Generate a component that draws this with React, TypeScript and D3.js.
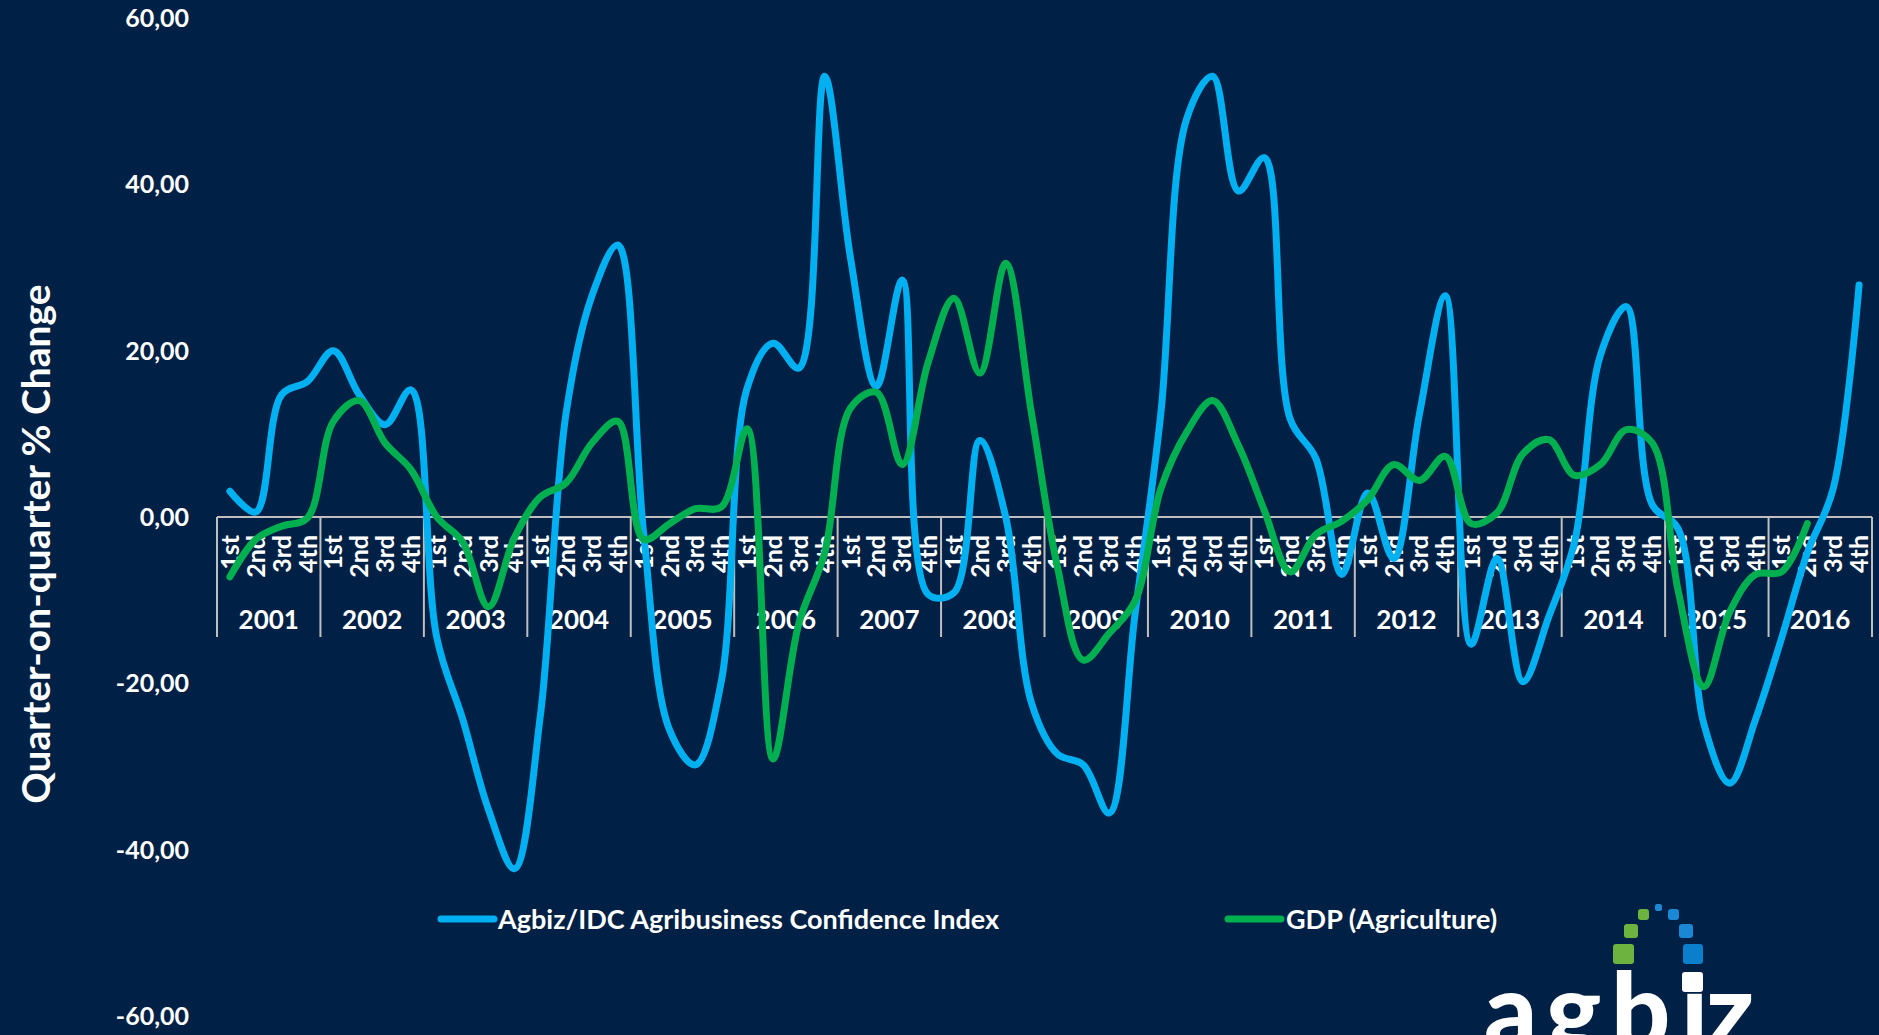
import { useEffect } from 'react'
import * as d3 from 'd3'

const years = ['2001', '2002', '2003', '2004', '2005', '2006', '2007', '2008', '2009', '2010', '2011', '2012', '2013', '2014', '2015', '2016']
const quarters = ['1st', '2nd', '3rd', '4th']

// Agbiz/IDC Agribusiness Confidence Index, q-o-q % change (2001 Q1 .. 2016 Q4)
const confidence = [
  3.1, 0.6, 14.7, 16.3,
  20.0, 14.7, 11.1, 15.3,
  -14.5, -24.3, -35.2, -42.3,
  -24.0, 12.5, 26.6, 32.7,
  -2.0, -25.6, -29.8, -19.8,
  15.5, 20.9, 17.9, 53.0,
  31.1, 15.7, 28.5, -9.3,
  -9.1, 9.2, 0.0, -22.4,
  -28.5, -29.8, -35.6, -11.7,
  12.5, 47.9, 53.0, 39.2,
  43.2, 11.8, 7.0, -6.9,
  2.9, -5.0, 12.4, 26.6,
  -15.3, -5.0, -19.8, -12.0,
  -3.0, 19.5, 25.3, 1.5,
  -1.4, -24.9, -32.0, -24.3,
  -14.6, -4.3, 3.4, 27.9,
]

// GDP (Agriculture), q-o-q % change (2001 Q1 .. 2016 Q2)
const gdpAgri = [
  -7.2, -2.7, -1.1, -0.1,
  11.5, 14.0, 8.9, 5.7,
  0.0, -3.0, -10.8, -2.5,
  2.4, 4.1, 8.9, 11.5,
  -2.7, -0.8, 1.0, 1.2,
  10.6, -29.1, -12.8, -4.3,
  13.1, 15.0, 6.3, 18.6,
  26.3, 17.3, 30.5, 12.4,
  -6.0, -17.2, -14.0, -10.1,
  3.4, 10.2, 14.0, 8.6,
  0.8, -6.6, -2.1, -0.5,
  2.1, 6.3, 4.4, 7.3,
  -0.8, 0.5, 7.6, 9.3,
  5.0, 6.3, 10.5, 8.9,
  -8.8, -20.4, -11.4, -6.9,
  -6.6, -0.8,
]

const yTicks = [-60, -40, -20, 0, 20, 40, 60]

const W = 1879
const H = 1035
const BG = '#002145'
const BLUE = '#00B0F0'
const GREEN = '#00B050'
const FONT = 'Lato, "Open Sans", sans-serif'

export default function App() {
  useEffect(() => {
    document.body.style.margin = '0'
    document.body.style.overflow = 'hidden'
  }, [])

  const cats = years.flatMap((yr) => quarters.map((q) => `${yr}-${q}`))
  const x = d3.scaleBand<string>().domain(cats).range([217, 1872])
  const y = d3.scaleLinear().domain([-60, 60]).range([1016, 18])
  const cx = (i: number) => (x(cats[i]) ?? 0) + x.bandwidth() / 2
  const y0 = y(0)

  const line = d3
    .line<number>()
    .x((_, i) => cx(i))
    .y((d) => y(d))
    .curve(d3.curveCatmullRom.alpha(0.5))

  // excel style: 2 decimals, comma separator, plain hyphen
  const fmt = (v: number) => v.toFixed(2).replace('.', ',')

  const seps = [...years.map((yr) => x(`${yr}-1st`) ?? 0), x.range()[1]]

  return (
    <svg width={W} height={H} style={{ position: 'absolute', left: 0, top: 0, display: 'block' }} fontFamily={FONT}>
      <rect width={W} height={H} fill={BG} />

      {/* y tick labels */}
      {yTicks.map((t) => (
        <text key={t} x={189} y={y(t)} dy="0.36em" textAnchor="end" fill="#fff" fontSize={25} fontWeight={700}>
          {fmt(t)}
        </text>
      ))}

      {/* y axis title */}
      <text
        transform={`translate(36,${544}) rotate(-90)`}
        dy="0.36em"
        textAnchor="middle"
        fill="#fff"
        fontSize={39}
        fontWeight={700}
      >
        Quarter-on-quarter % Change
      </text>

      {/* category axis */}
      <line x1={x.range()[0]} x2={x.range()[1]} y1={y0} y2={y0} stroke="#BFBFBF" strokeWidth={2} />
      {seps.map((sx, k) => (
        <line key={k} x1={sx} x2={sx} y1={y0} y2={637} stroke="#BFBFBF" strokeWidth={2} />
      ))}
      {cats.map((c, i) => (
        <text
          key={c}
          transform={`translate(${cx(i)},535) rotate(-90)`}
          dy="0.36em"
          textAnchor="end"
          fill="#fff"
          fontSize={25}
          fontWeight={700}
        >
          {quarters[i % 4]}
        </text>
      ))}
      {years.map((yr) => {
        const x0 = x(`${yr}-1st`) ?? 0
        return (
          <text key={yr} x={x0 + x.bandwidth() * 2} y={620} dy="0.36em" textAnchor="middle" fill="#fff" fontSize={26} fontWeight={700}>
            {yr}
          </text>
        )
      })}

      {/* series */}
      <path d={line(confidence) ?? ''} fill="none" stroke={BLUE} strokeWidth={7} strokeLinecap="round" strokeLinejoin="round" />
      <path d={line(gdpAgri) ?? ''} fill="none" stroke={GREEN} strokeWidth={7} strokeLinecap="round" strokeLinejoin="round" />

      {/* legend */}
      <line x1={441} x2={494} y1={919} y2={919} stroke={BLUE} strokeWidth={7} strokeLinecap="round" />
      <text x={498} y={919} dy="0.36em" fill="#fff" fontSize={27} fontWeight={700}>
        Agbiz/IDC Agribusiness Confidence Index
      </text>
      <line x1={1228} x2={1281} y1={919} y2={919} stroke={GREEN} strokeWidth={7} strokeLinecap="round" />
      <text x={1286} y={919} dy="0.36em" fill="#fff" fontSize={27} fontWeight={700}>
        GDP (Agriculture)
      </text>

      {/* agbiz logo */}
      <g>
        <rect x={1613} y={944} width={21} height={20} rx={3} fill="#6DB33F" />
        <rect x={1624} y={924} width={14} height={14} rx={3} fill="#6DB33F" />
        <rect x={1638} y={909} width={11} height={11} rx={3} fill="#6DB33F" />
        <rect x={1655} y={904} width={7} height={7} rx={2} fill="#1A88D4" />
        <rect x={1668} y={909} width={11} height={11} rx={3} fill="#1A88D4" />
        <rect x={1679} y={924} width={14} height={14} rx={3} fill="#1A88D4" />
        <rect x={1683} y={944} width={20} height={20} rx={3} fill="#0A7FCC" />
        <rect x={1682} y={972} width={21} height={20} rx={3} fill="#fff" />
        <text x="1484 1546 1611 1681 1706" y={1048} fill="#fff" fontSize={104} fontWeight={900} fontFamily="Lato, sans-serif">
          agbız
        </text>
      </g>
    </svg>
  )
}
